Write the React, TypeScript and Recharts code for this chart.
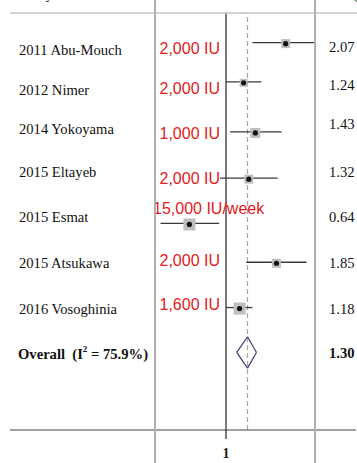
import React from 'react';
import {
  ComposedChart,
  XAxis,
  YAxis,
  Scatter,
  ReferenceLine,
} from 'recharts';

const studies = [
  '2011 Abu-Mouch',
  '2012 Nimer',
  '2014 Yokoyama',
  '2015 Eltayeb',
  '2015 Esmat',
  '2015 Atsukawa',
  '2016 Vosoghinia',
];
const doses = ['2,000 IU', '2,000 IU', '1,000 IU', '2,000 IU', '15,000 IU/week', '2,000 IU', '1,600 IU'];
const estimates = [2.07, 1.24, 1.43, 1.32, 0.64, 1.85, 1.18];
const ciLow = [1.38, 1.0, 1.05, 0.93, 0.45, 1.28, 1.0];
const ciHigh = [2.94, 1.54, 1.97, 1.88, 0.92, 2.67, 1.38];
const weights = [12.8, 11.4, 14.3, 12.8, 17.1, 12.8, 17.1];

const overallEst = 1.3;
const overallLow = 1.14;
const overallHigh = 1.45;
const overallI2 = '75.9%';

// row positions (row units)
const markRows = [0.85, 1.75, 2.9, 3.96, 5.0, 5.89, 6.93, 7.96];
const nameRows = [1.02, 1.94, 2.83, 3.82, 4.85, 5.91, 6.96, 7.99];
const doseRows = [0.98, 1.9, 2.93, 3.96, 4.65, 5.84, 6.87];
const valueRows = [0.94, 1.82, 2.72, 3.82, 4.86, 5.9, 6.96, 7.97];

const xTicks = [1];

const X_DOMAIN = [0.0718, 4.88];
const Y_DOMAIN = [0.17, 9.74];
const SERIF = '"Liberation Serif", "Times New Roman", serif';
const SANS = '"Liberation Sans", Arial, sans-serif';
const DIAMOND_HALF = 0.36;

const points = estimates.map((est, i) => ({ x: est, y: markRows[i], w: weights[i] }));

function StudyMark(props: any) {
  const { cx, cy, payload } = props;
  if (cx == null || cy == null) return null;
  const s = payload.w * 0.7;
  return (
    <g>
      <rect x={cx - s / 2} y={cy - s / 2 + 1} width={s} height={s} fill="#bdbdc2" />
      <circle cx={cx} cy={cy + 1} r={2.6} fill="#111" />
    </g>
  );
}

function NameTick(props: any) {
  const { y, payload } = props;
  const i = nameRows.indexOf(payload.value);
  if (i < 0) return null;
  if (i === studies.length) {
    return (
      <text x={18} y={y} dominantBaseline="central" fontFamily={SERIF} fontSize={14.6} fontWeight="bold" fill="#111">
        Overall{'\u00a0\u00a0'}(I
        <tspan dy={-5} fontSize={9}>2</tspan>
        <tspan dy={5}> = {overallI2})</tspan>
      </text>
    );
  }
  return (
    <text x={19} y={y} dominantBaseline="central" fontFamily={SERIF} fontSize={14.6} fill="#111">
      {studies[i]}
    </text>
  );
}

function DoseTick(props: any) {
  const { y, payload } = props;
  const i = doseRows.indexOf(payload.value);
  if (i < 0) return null;
  const label = doses[i];
  const long = label.length > 9;
  return (
    <text
      x={long ? 153 : 220}
      y={y}
      dominantBaseline="central"
      textAnchor={long ? 'start' : 'end'}
      fontFamily={SANS}
      fontSize={16}
      fill="#e0201c"
    >
      {label}
    </text>
  );
}

function ValueTick(props: any) {
  const { y, payload } = props;
  const i = valueRows.indexOf(payload.value);
  if (i < 0) return null;
  const isOverall = i === estimates.length;
  const v = isOverall ? overallEst : estimates[i];
  return (
    <text
      x={329}
      y={y}
      dominantBaseline="central"
      fontFamily={SERIF}
      fontSize={14.6}
      fontWeight={isOverall ? 'bold' : 'normal'}
      fill="#111"
    >
      {v.toFixed(2)}
    </text>
  );
}

function XTick(props: any) {
  const { x, payload } = props;
  return (
    <text x={x} y={453} dominantBaseline="central" textAnchor="middle" fontFamily={SERIF} fontSize={14} fontWeight="bold" fill="#222">
      {payload.value}
    </text>
  );
}

export default function App() {
  const oRow = markRows[markRows.length - 1];
  return (
    <div style={{ position: 'relative', width: 357, height: 463, overflow: 'hidden', background: '#fff' }}>
      <style>{'body{margin:0}'}</style>
      <ComposedChart
        width={357}
        height={463}
        data={points}
        margin={{ top: 13, right: 0, bottom: 0, left: 7 }}
      >
        <XAxis
          dataKey="x"
          type="number"
          scale="log"
          domain={X_DOMAIN}
          allowDataOverflow
          ticks={xTicks}
          interval={0}
          height={33}
          tickSize={9}
          tick={XTick}
          axisLine={{ stroke: '#444', strokeWidth: 1.2 }}
          tickLine={{ stroke: '#222', strokeWidth: 1.2 }}
        />
        <YAxis
          yAxisId="marks"
          type="number"
          domain={Y_DOMAIN}
          allowDataOverflow
          reversed
          width={1}
          tick={false}
          axisLine={false}
          tickLine={false}
        />
        <YAxis
          yAxisId="names"
          type="number"
          domain={Y_DOMAIN}
          allowDataOverflow
          reversed
          ticks={nameRows}
          interval={0}
          width={1}
          axisLine={false}
          tickLine={false}
          tick={NameTick}
        />
        <YAxis
          yAxisId="doses"
          type="number"
          domain={Y_DOMAIN}
          allowDataOverflow
          reversed
          ticks={doseRows}
          interval={0}
          width={1}
          axisLine={false}
          tickLine={false}
          tick={DoseTick}
        />
        <YAxis
          yAxisId="values"
          orientation="right"
          type="number"
          domain={Y_DOMAIN}
          allowDataOverflow
          reversed
          ticks={valueRows}
          interval={0}
          width={1}
          axisLine={false}
          tickLine={false}
          tick={ValueTick}
        />
        <ReferenceLine yAxisId="marks" x={1} stroke="#222" strokeWidth={1.2} />
        <ReferenceLine yAxisId="marks" x={overallEst} stroke="#b89ea6" strokeWidth={1.2} strokeDasharray="5 3" />
        {estimates.map((_, i) => (
          <ReferenceLine
            key={i}
            yAxisId="marks"
            segment={[
              { x: ciLow[i], y: markRows[i] },
              { x: ciHigh[i], y: markRows[i] },
            ]}
            stroke="#3a3a3a"
            strokeWidth={1.3}
          />
        ))}
        <Scatter yAxisId="marks" dataKey="y" shape={StudyMark} isAnimationActive={false} />
        <ReferenceLine yAxisId="marks" segment={[{ x: overallLow, y: oRow }, { x: overallEst, y: oRow - DIAMOND_HALF }]} stroke="#3b3b73" strokeWidth={1.2} />
        <ReferenceLine yAxisId="marks" segment={[{ x: overallEst, y: oRow - DIAMOND_HALF }, { x: overallHigh, y: oRow }]} stroke="#3b3b73" strokeWidth={1.2} />
        <ReferenceLine yAxisId="marks" segment={[{ x: overallHigh, y: oRow }, { x: overallEst, y: oRow + DIAMOND_HALF }]} stroke="#3b3b73" strokeWidth={1.2} />
        <ReferenceLine yAxisId="marks" segment={[{ x: overallEst, y: oRow + DIAMOND_HALF }, { x: overallLow, y: oRow }]} stroke="#3b3b73" strokeWidth={1.2} />
      </ComposedChart>
      <svg width={357} height={463} style={{ position: 'absolute', left: 0, top: 0, pointerEvents: 'none' }}>
        <line x1={10} y1={13} x2={357} y2={13} stroke="#c4c4c4" strokeWidth={1.5} />
        <line x1={155} y1={0} x2={155} y2={463} stroke="#b0b0b0" strokeWidth={2} />
        <line x1={315} y1={0} x2={315} y2={463} stroke="#b0b0b0" strokeWidth={2} />
        <text x={19} y={-1} fontFamily={SERIF} fontSize={14.6} fill="#111">Study</text>
        <text x={332} y={-1} fontFamily={SERIF} fontSize={14.6} fill="#111">ES (95% CI)</text>
      </svg>
    </div>
  );
}
